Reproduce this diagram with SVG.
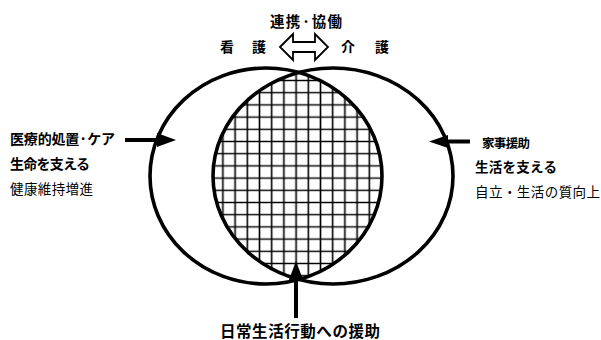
<svg xmlns="http://www.w3.org/2000/svg" width="601" height="340" viewBox="0 0 601 340">
<style>
.t{font-family:"Noto Sans CJK JP","Noto Sans CJK SC",sans-serif;fill:#000}
.b{font-weight:bold}
.ring{fill:none;stroke:#000;stroke-width:3.6}
.conn{stroke:#000;stroke-width:4;fill:none}
.head{fill:#000;stroke:none}
</style>
<defs>
<pattern id="grid" patternUnits="userSpaceOnUse" x="241.2" y="86.6" width="12.2" height="12.2">
<path d="M6.1 0V12.2M0 6.1H12.2" stroke="#000" stroke-width="1.6"/>
</pattern>
<clipPath id="clipL"><ellipse cx="266" cy="176" rx="116" ry="108"/></clipPath>
</defs>
<rect width="601" height="340" fill="#fff"/>
<g id="overlap" clip-path="url(#clipL)">
<ellipse cx="333" cy="176" rx="120" ry="108" fill="url(#grid)"/>
</g>
<g id="nursing">
<ellipse class="ring" cx="266" cy="176" rx="116" ry="108"/>
<text class="t b" x="220" y="52" font-size="14">看</text>
<text class="t b" x="252" y="52" font-size="14">護</text>
</g>
<g id="care">
<ellipse class="ring" cx="333" cy="176" rx="120" ry="108"/>
<text class="t b" x="341" y="52" font-size="14">介</text>
<text class="t b" x="375" y="52" font-size="14">護</text>
</g>
<g id="cooperation">
<text class="t b" x="270" y="27" font-size="14.5" textLength="72" lengthAdjust="spacing">連携·協働</text>
<polygon points="280,47 293,34 293,42 315,42 315,34 328,47 315,60 315,52 293,52 293,60" fill="#fff" stroke="#000" stroke-width="1.8" stroke-linejoin="miter"/>
</g>
<g id="medical">
<text class="t b" x="10" y="144" font-size="14" textLength="105" lengthAdjust="spacing">医療的処置·ケア</text>
<text class="t b" x="10" y="169" font-size="14" textLength="80" lengthAdjust="spacing">生命を支える</text>
<text class="t" x="10" y="194" font-size="13.5" textLength="83" lengthAdjust="spacing">健康維持増進</text>
</g>
<g id="housework">
<text class="t b" x="482" y="148" font-size="12.5" textLength="48" lengthAdjust="spacing">家事援助</text>
<text class="t b" x="475" y="172" font-size="13.5" textLength="82" lengthAdjust="spacing">生活を支える</text>
<text class="t" x="475" y="197" font-size="13.5" textLength="125" lengthAdjust="spacing">自立・生活の質向上</text>
</g>
<g id="daily">
<text class="t b" x="220" y="337" font-size="15.5" textLength="160" lengthAdjust="spacing">日常生活行動への援助</text>
</g>
<g id="connectors">
<line class="conn" x1="125" y1="140" x2="160" y2="140"/>
<polygon class="head" points="176,140 157,133 157,147"/>
<line class="conn" x1="470" y1="141.5" x2="444" y2="141.5"/>
<polygon class="head" points="429,141.5 448,135 448,148"/>
<line class="conn" x1="296" y1="318" x2="296" y2="278"/>
<polygon class="head" points="296,261 288.5,281 303.5,281"/>
</g>
</svg>
